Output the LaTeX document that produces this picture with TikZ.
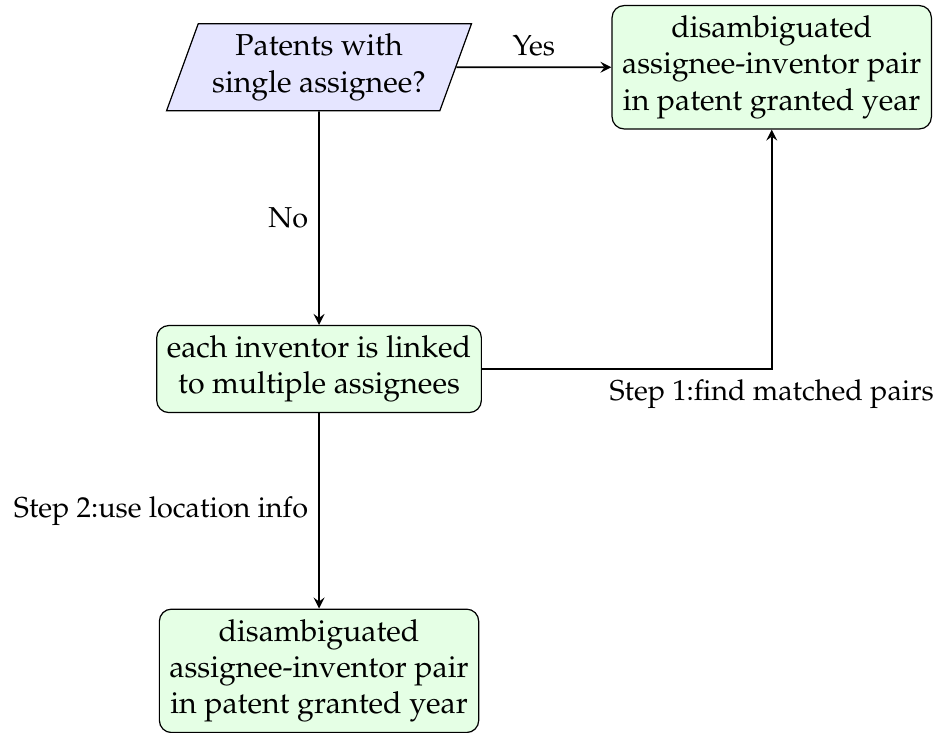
\documentclass[tikz,border=0pt]{standalone}
\usepackage[T1]{fontenc}
\usepackage{mathpazo}
\usepackage{tikz}
\usetikzlibrary{shapes.geometric,arrows}
\tikzset{
  decision/.style = {trapezium, trapezium left angle=70,
                     trapezium right angle=110, draw,
                     inner xsep=4.6pt, align=center, fill=blue!10},
  result/.style   = {rectangle, rounded corners, draw,
                     align=center, fill=green!10},
  link/.style     = {draw, semithick, -stealth,
                     every node/.style={font=\fontsize{9.5}{11.4}\selectfont}},
}

\begin{document}
\begin{tikzpicture}
  \useasboundingbox (-3.70,0.78) rectangle (7.19,-7.71);
  \node [decision] (single)  at (0,0)    {Patents with\\single assignee?};
  \node [result]   (pairyes) at (5.25,0) {disambiguated\\assignee-inventor pair\\in patent granted year};
  \node [result]   (multi)   at (0,-3.5) {each inventor is linked\\to multiple assignees};
  \node [result]   (pairloc) at (0,-7)   {disambiguated\\assignee-inventor pair\\in patent granted year};
  \draw [link] (single) -- node [above] {Yes} (pairyes);
  \draw [link] (single) -- node [left] {No} (multi);
  \draw [link] (multi) -| node [below] {Step 1:find matched pairs} (pairyes);
  \draw [link] (multi) -- node [left] {Step 2:use location info} (pairloc);
\end{tikzpicture}
\end{document}
